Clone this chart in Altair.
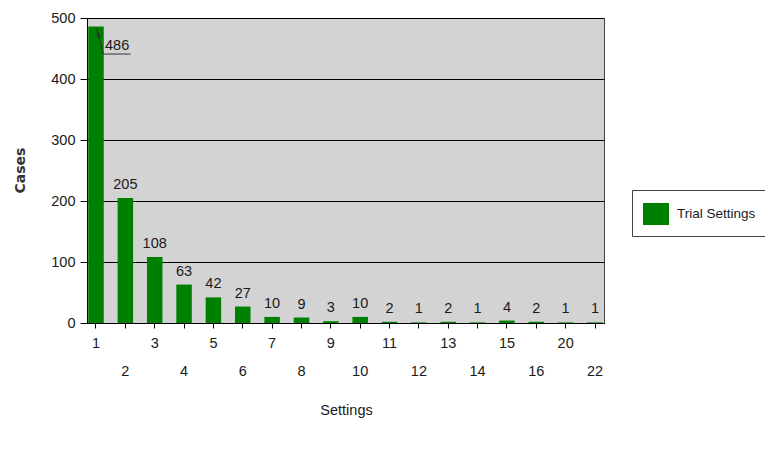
import altair as alt
import pandas as pd

settings = ["1", "2", "3", "4", "5", "6", "7", "8", "9", "10",
            "11", "12", "13", "14", "15", "16", "20", "22"]
cases = [486, 205, 108, 63, 42, 27, 10, 9, 3, 10, 2, 1, 2, 1, 4, 2, 1, 1]
series_name = "Trial Settings"
y_ticks = [0, 100, 200, 300, 400, 500]

df = pd.DataFrame({"Settings": settings, "Cases": cases, "Series": series_name})

FONT = "'Liberation Sans Narrow', 'Arial Narrow', 'Liberation Sans', Arial, sans-serif"
TXT = "#1a1a1a"
FS = 14.5

cat_list = "[" + ",".join("'%s'" % s for s in settings) + "]"
label_expr = "indexof(%s, datum.value) %% 2 == 1 ? ['', datum.label] : datum.label" % cat_list

x_enc = alt.X(
    "Settings:N",
    sort=settings,
    scale=alt.Scale(paddingInner=0.472, paddingOuter=0.0426),
    axis=alt.Axis(
        title="Settings",
        labelAngle=0,
        labelExpr=label_expr,
        labelBaseline="top",
        labelAlign="center",
        labelLineHeight=28,
        labelPadding=8,
        labelOverlap=False,
        labelFlush=False,
        bandPosition=0.5,
        tickSize=5,
        titleFont=FONT,
        titleFontSize=14.5,
        titleFontWeight="normal",
        titleColor=TXT,
        titleX=259,
        titleY=87,
        titleBaseline="middle",
        titleAlign="center",
        grid=False,
    ),
)

y_enc = alt.Y(
    "Cases:Q",
    scale=alt.Scale(domain=[0, 500], nice=False),
    axis=alt.Axis(
        values=y_ticks,
        title="Cases",
        tickSize=7,
        labelPadding=5,
        titleFont="DejaVu Sans",
        titleFontSize=14,
        titleFontWeight="bold",
        titleColor="#333333",
        titleAngle=270,
        titleX=-67,
        titleY=152,
        titleAlign="center",
        titleBaseline="middle",
        grid=True,
        gridColor="#000000",
        gridOpacity=1,
        gridWidth=1,
    ),
)

base = alt.Chart(df)

bars = base.mark_bar().encode(
    x=x_enc,
    y=y_enc,
    fill=alt.Fill(
        "Series:N",
        scale=alt.Scale(domain=[series_name], range=["#008000"]),
        legend=alt.Legend(
            title=None,
            orient="none",
            legendX=545,
            legendY=172,
            symbolType="M-1,-0.846L1,-0.846L1,0.846L-1,0.846Z",
            symbolSize=676,
            symbolStrokeWidth=0,
            labelFont=FONT,
            labelFontSize=13.5,
            labelColor=TXT,
            labelOffset=8,
            padding=11,
            strokeColor="#444444",
            fillColor="#ffffff",
        ),
    ),
)

labels = base.transform_filter(alt.datum.Settings != "1").mark_text(
    dy=-9, baseline="alphabetic", font=FONT, fontSize=FS, color=TXT
).encode(x=x_enc, y=y_enc, text="Cases:Q")

first = base.transform_filter(alt.datum.Settings == "1")

callout_text = first.mark_text(
    dx=9, dy=23.5, align="left", baseline="alphabetic", font=FONT, fontSize=FS, color=TXT
).encode(x=x_enc, y=y_enc, text="Cases:Q")

leader = first.mark_rule(
    color="#333333", strokeWidth=1,
    xOffset=0.7, yOffset=1.8, x2Offset=7.3, y2Offset=27.5,
).encode(x=x_enc, y=y_enc, x2=alt.X2("Settings:N"), y2=alt.Y2("Cases:Q"))

underline = first.mark_rule(
    color="#333333", strokeWidth=1,
    xOffset=7.3, yOffset=27.5, x2Offset=34.7, y2Offset=27.5,
).encode(x=x_enc, y=y_enc, x2=alt.X2("Settings:N"), y2=alt.Y2("Cases:Q"))

arrow = first.mark_point(
    shape="M0,-1L0.45,1L-0.45,1Z", size=81, filled=True, color="#333333",
    opacity=1, angle=346, xOffset=1.9, yOffset=6.3,
).encode(x=x_enc, y=y_enc)

chart = alt.layer(bars, labels, leader, underline, arrow, callout_text).properties(
    width=517,
    height=305,
    autosize=alt.AutoSizeParams(type="none"),
    padding={"left": 79, "top": 10, "right": 161, "bottom": 139},
    background="#ffffff",
).configure_view(
    fill="#d3d3d3", stroke="#444444", strokeWidth=1
).configure_axis(
    domainColor="#000000",
    tickColor="#000000",
    labelFont=FONT,
    labelFontSize=FS,
    labelColor=TXT,
)

chart.save("out.html", embed_options={"renderer": "svg", "actions": False})
